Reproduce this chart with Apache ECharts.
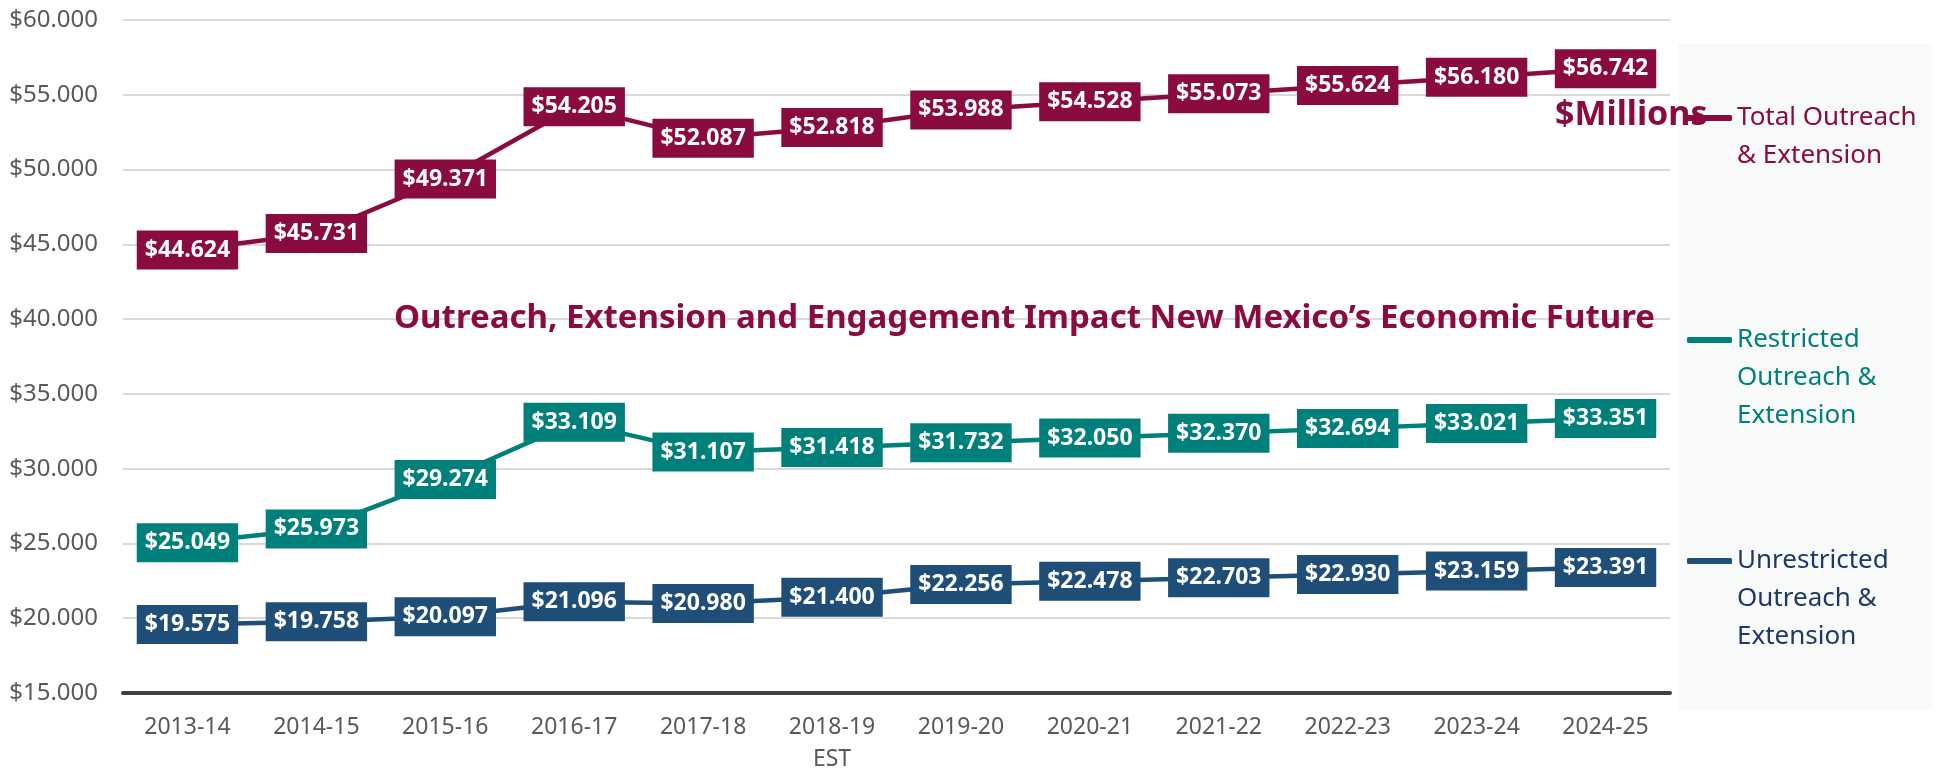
<!DOCTYPE html>
<html>
<head>
<meta charset="utf-8">
<script src="https://cdn.jsdelivr.net/npm/echarts@6/dist/echarts.min.js"></script>
<style>
  html, body { margin: 0; padding: 0; background: #fff; }
  #chart { width: 1944px; height: 775px; }
</style>
</head>
<body>
<div id="chart"></div>
<script>
const years = ['2013-14', '2014-15', '2015-16', '2016-17', '2017-18', '2018-19\nEST',
  '2019-20', '2020-21', '2021-22', '2022-23', '2023-24', '2024-25'];
const totalVals = [44.624, 45.731, 49.371, 54.205, 52.087, 52.818, 53.988, 54.528, 55.073, 55.624, 56.180, 56.742];
const restrictedVals = [25.049, 25.973, 29.274, 33.109, 31.107, 31.418, 31.732, 32.050, 32.370, 32.694, 33.021, 33.351];
const unrestrictedVals = [19.575, 19.758, 20.097, 21.096, 20.980, 21.400, 22.256, 22.478, 22.703, 22.930, 23.159, 23.391];
const seriesNames = ['Total Outreach\n& Extension', 'Restricted\nOutreach &\nExtension', 'Unrestricted\nOutreach &\nExtension'];

const FONT = 'Noto Sans';
const MAROON = '#8A0B40';
const TEAL = '#00807A';
const NAVY = '#1F4E79';

const money = v => '$' + Number(v).toFixed(3);

function lineSeries(name, data, color) {
  return {
    name: name,
    type: 'line',
    data: data,
    symbol: 'circle',
    symbolSize: 1,
    itemStyle: { color: color },
    lineStyle: { color: color, width: 4.5 },
    label: {
      show: true,
      position: 'inside',
      formatter: p => money(p.value),
      color: '#fff',
      fontFamily: FONT,
      fontWeight: 'bold',
      fontSize: 23,
      lineHeight: 26,
      backgroundColor: color,
      padding: [6, 8, 7, 8]
    }
  };
}

// legend text keeps the symbol on the first line: pad with blank lines above
function legendBox(name, top, textColor) {
  const lines = name.split('\n').length;
  return {
    data: [name],
    left: 1687,
    top: top,
    padding: 0,
    icon: 'roundRect',
    itemWidth: 45,
    itemHeight: 6,
    selectedMode: false,
    formatter: n => '\n'.repeat(lines - 1) + n,
    textStyle: { fontFamily: FONT, fontSize: 26, lineHeight: 38, color: textColor }
  };
}

const chart = echarts.init(document.getElementById('chart'));
chart.setOption({
  backgroundColor: '#fff',
  animation: false,
  title: [
    {
      text: 'Outreach, Extension and Engagement Impact New Mexico’s Economic Future',
      left: 394,
      top: 298,
      padding: 0,
      textStyle: { fontFamily: FONT, fontWeight: 'bold', fontSize: 33, lineHeight: 42, color: MAROON }
    },
    {
      text: '$Millions',
      left: 1555,
      top: 95,
      padding: 0,
      z: 10,
      textStyle: { fontFamily: FONT, fontWeight: 'bold', fontSize: 34, lineHeight: 40, color: MAROON }
    }
  ],
  legend: [
    legendBox(seriesNames[0], 61, MAROON),
    legendBox(seriesNames[1], 245, TEAL),
    legendBox(seriesNames[2], 466, '#1F3864')
  ],
  graphic: [
    {
      type: 'rect',
      z: -10,
      shape: { x: 1678, y: 44, width: 254, height: 666 },
      style: { fill: '#F8F9F9' }
    }
  ],
  grid: { left: 123, right: 274, top: 20, bottom: 79, containLabel: false },
  xAxis: {
    type: 'category',
    data: years,
    boundaryGap: true,
    axisTick: { show: false },
    axisLine: { lineStyle: { color: '#404040', width: 4 } },
    axisLabel: {
      color: '#595959',
      fontFamily: FONT,
      fontSize: 23,
      lineHeight: 32,
      margin: 18,
      interval: 0
    }
  },
  yAxis: {
    type: 'value',
    min: 15,
    max: 60,
    interval: 5,
    axisLine: { show: false },
    axisTick: { show: false },
    splitLine: { lineStyle: { color: '#D9D9D9', width: 2 } },
    axisLabel: {
      color: '#595959',
      fontFamily: FONT,
      fontSize: 24,
      margin: 25,
      formatter: v => money(v)
    }
  },
  series: [
    lineSeries(seriesNames[0], totalVals, MAROON),
    lineSeries(seriesNames[1], restrictedVals, TEAL),
    lineSeries(seriesNames[2], unrestrictedVals, NAVY)
  ]
});
</script>
</body>
</html>
